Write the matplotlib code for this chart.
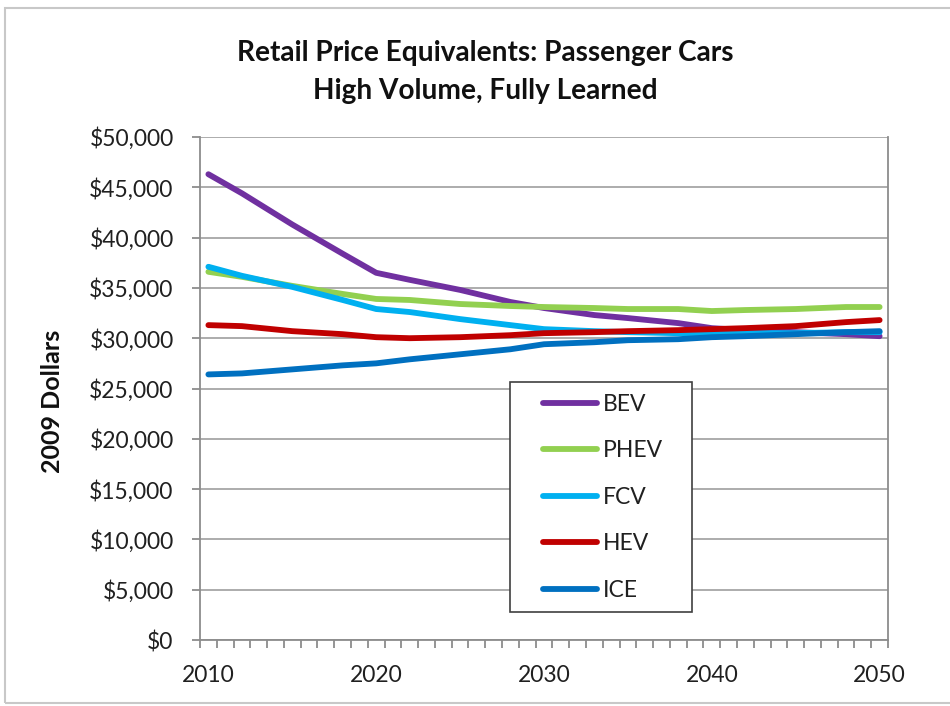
import matplotlib
matplotlib.use("Agg")
import numpy as np
import matplotlib.pyplot as plt
from matplotlib.patches import Rectangle
from matplotlib.ticker import FuncFormatter, MultipleLocator, FixedLocator

years = [2010, 2012, 2015, 2018, 2020, 2022, 2025, 2028, 2030, 2033, 2035, 2038, 2040, 2042, 2045, 2048, 2050]
bev = [46300, 44400, 41300, 38400, 36500, 35800, 34800, 33600, 33000, 32300, 32000, 31500, 31000, 30800, 30600, 30400, 30200]
phev = [36600, 36100, 35200, 34400, 33900, 33800, 33400, 33200, 33100, 33000, 32900, 32900, 32700, 32800, 32900, 33100, 33100]
fcv = [37100, 36200, 35100, 33800, 32900, 32600, 31900, 31300, 30900, 30700, 30600, 30500, 30500, 30500, 30500, 30600, 30600]
hev = [31300, 31200, 30700, 30400, 30100, 30000, 30100, 30300, 30500, 30600, 30700, 30800, 30900, 31000, 31200, 31600, 31800]
ice = [26400, 26500, 26900, 27300, 27500, 27900, 28400, 28900, 29400, 29600, 29800, 29900, 30100, 30200, 30400, 30600, 30700]

series = [("BEV", bev, "#7030A0"), ("PHEV", phev, "#92D050"), ("FCV", fcv, "#00B0F0"),
          ("HEV", hev, "#C00000"), ("ICE", ice, "#0070C0")]

FONT = ["Lato", "Liberation Sans", "DejaVu Sans"]
plt.rcParams["font.family"] = FONT

W, H = 950, 706
fig = plt.figure(figsize=(9.5, 7.06), dpi=100)
fig.patches.append(Rectangle((5/W, 1-703/H), 1.2, 695/H, transform=fig.transFigure,
                             fill=False, edgecolor="#c8c8c8", lw=1.5))
L, R, T, B = 200, 888, 137, 640
ax = fig.add_axes([L/W, 1-B/H, (R-L)/W, (B-T)/H])

draw_order = ["BEV", "PHEV", "FCV", "HEV", "ICE"]
handles = {}
for name, vals, col in series:
    ln, = ax.plot(years, vals, color=col, lw=4.2, solid_capstyle="round",
                  solid_joinstyle="round", label=name)
    handles[name] = ln

ax.set_xlim(2009.5, 2050.5)
ax.set_ylim(0, 50000)
ax.yaxis.set_major_locator(MultipleLocator(5000))
ax.xaxis.set_major_locator(FixedLocator([2010, 2020, 2030, 2040, 2050]))
ax.xaxis.set_minor_locator(FixedLocator(np.arange(2009.5, 2051, 1.0)))
ax.yaxis.set_major_formatter(FuncFormatter(lambda v, p: "${:,.0f}".format(v)))
ax.grid(axis="y", color="#a6a6a6", lw=1.3)
ax.set_axisbelow(True)
for s in ax.spines.values():
    s.set_color("#8c8c8c")
    s.set_linewidth(1.3)
ax.spines["top"].set_visible(False)
ax.tick_params(axis="y", length=6, width=1.3, color="#8c8c8c", labelsize=16.5, pad=13, labelcolor="#202020")
ax.tick_params(axis="x", which="major", length=0, labelsize=16.5, pad=18, labelcolor="#202020")
ax.tick_params(axis="x", which="minor", length=5.5, width=1.3, color="#8c8c8c")

fig.text(52/W, 1-401/H, "2009 Dollars", rotation=90, ha="center", va="center",
         fontsize=18, fontweight="bold", color="#101010")
fig.text(485/W, 1-53/H, "Retail Price Equivalents: Passenger Cars", ha="center", va="center",
         fontsize=20.2, fontweight="bold", color="#101010")
fig.text(485/W, 1-91/H, "High Volume, Fully Learned", ha="center", va="center",
         fontsize=20.2, fontweight="bold", color="#101010")

def ax_x(px):
    return (px - L) / (R - L)

def ax_y(py):
    return (B - py) / (B - T)

ax.add_patch(Rectangle((ax_x(510), ax_y(612)), ax_x(692) - ax_x(510), ax_y(382) - ax_y(612),
                       transform=ax.transAxes, facecolor="white", edgecolor="#404040",
                       lw=1.2, zorder=5))
leg = ax.legend([handles[n] for n in draw_order], draw_order, frameon=False,
                loc="upper left", bbox_to_anchor=(ax_x(543), ax_y(394)),
                borderpad=0, borderaxespad=0, handlelength=2.35, handletextpad=0.25,
                labelspacing=1.11, fontsize=16.5)
for t in leg.get_texts():
    t.set_color("#202020")
leg.set_zorder(6)

fig.savefig("out.png", dpi=100)
